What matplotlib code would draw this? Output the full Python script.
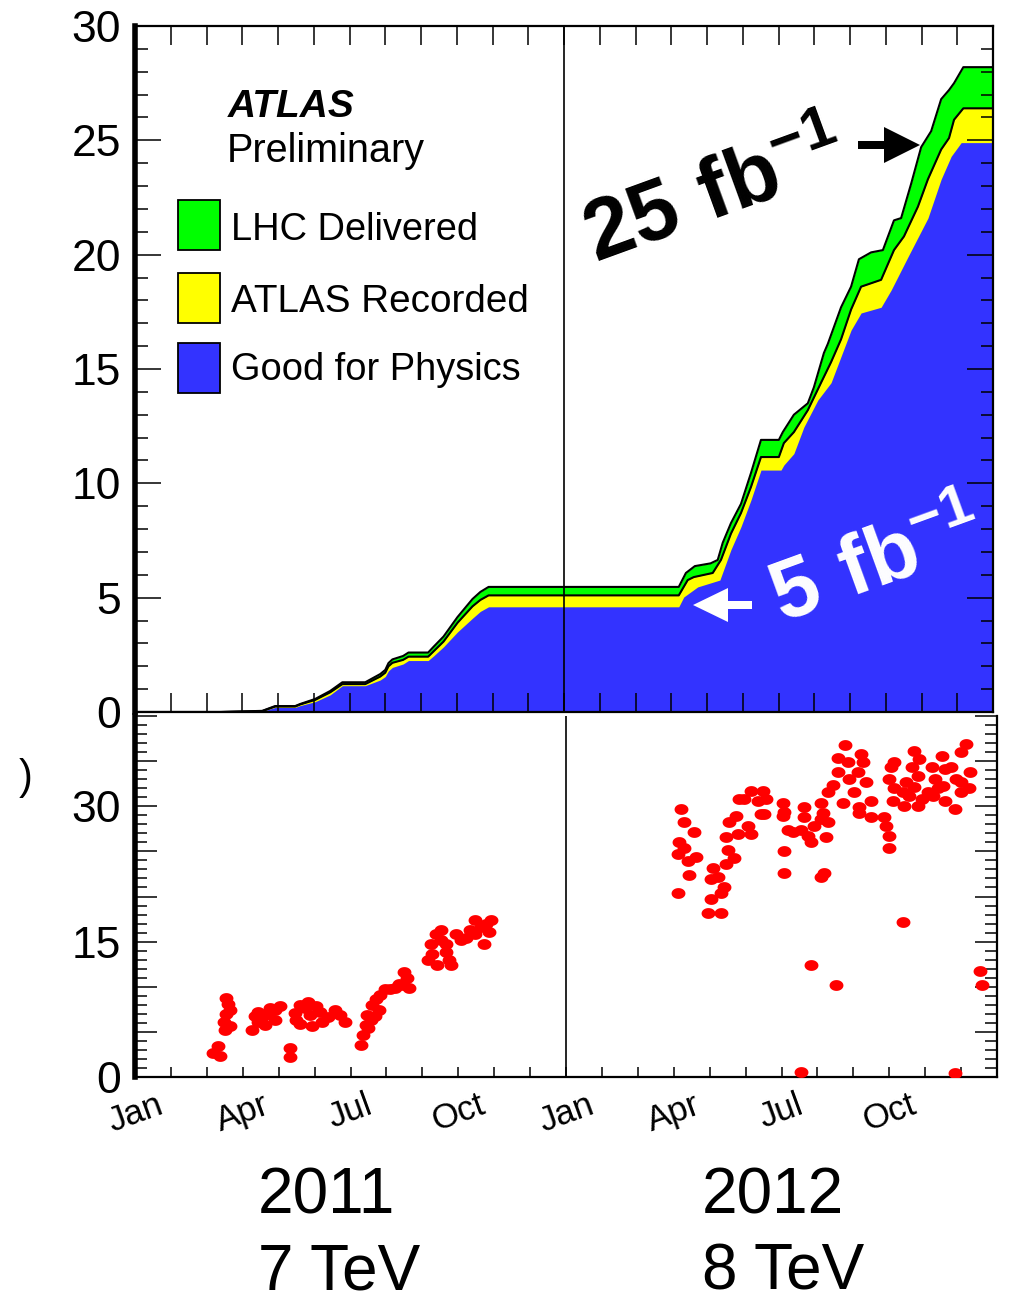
import numpy as np
import matplotlib
matplotlib.use("Agg")
import matplotlib.pyplot as plt
from matplotlib.patches import Rectangle, FancyArrow
from matplotlib.transforms import Affine2D

plt.rcParams['font.family'] = ['Liberation Sans', 'DejaVu Sans']
plt.rcParams['mathtext.fontset'] = 'custom'
plt.rcParams['mathtext.rm'] = 'Liberation Sans'
plt.rcParams['mathtext.bf'] = 'Liberation Sans:bold'

# ---- data (x in months since 1 Jan 2011) ----
del_x = [0, 2.4, 3.56, 3.92, 4.48, 4.62, 5.04, 5.46, 5.8, 6.44, 6.86, 7.0, 7.09, 7.2, 7.5,
         7.65, 8.2, 8.35, 8.63, 9.02, 9.44, 9.66, 9.89, 15.21, 15.41, 15.66, 16.1, 16.3, 16.44,
         16.67, 16.95, 17.23, 17.51, 18.01, 18.12, 18.43, 18.82, 18.99, 19.27, 19.38, 19.75,
         20.03, 20.25, 20.59, 20.92, 21.23, 21.43, 21.71, 21.99, 22.27, 22.55, 22.77, 22.91,
         23.17, 24.1]
del_y = [0, 0, 0.05, 0.26, 0.26, 0.35, 0.57, 0.92, 1.3, 1.3, 1.66, 1.84, 2.14, 2.3, 2.45,
         2.6, 2.6, 2.85, 3.3, 4.15, 4.94, 5.25, 5.47, 5.47, 6.08, 6.38, 6.5, 6.65, 7.4,
         8.26, 9.1, 10.45, 11.9, 11.9, 12.24, 13.0, 13.5, 14.2, 15.7, 16.1, 17.7,
         18.6, 19.8, 20.1, 20.2, 21.5, 21.6, 23.1, 24.7, 25.4, 26.8, 27.2, 27.5,
         28.2, 28.2]

rec_x = [0, 2.4, 3.56, 3.92, 4.48, 4.62, 5.04, 5.46, 5.8, 6.44, 6.86, 7.0, 7.09, 7.2, 7.5,
         7.65, 8.2, 8.35, 8.63, 9.02, 9.44, 9.66, 9.89, 15.21, 15.46, 15.63, 16.16, 16.39,
         16.67, 16.95, 17.23, 17.51, 18.01, 18.15, 18.43, 18.82, 19.19, 19.47, 19.75, 20.03,
         20.31, 20.87, 21.23, 21.51, 21.9, 22.18, 22.55, 22.77, 22.91, 23.17, 24.1]
rec_y = [0, 0, 0.04, 0.24, 0.24, 0.33, 0.53, 0.86, 1.22, 1.22, 1.55, 1.72, 2.0, 2.15, 2.28,
         2.42, 2.42, 2.65, 3.08, 3.9, 4.62, 4.9, 5.1, 5.1, 5.77, 5.9, 6.08, 6.65,
         7.8, 8.7, 9.84, 11.15, 11.15, 11.76, 12.24, 13.2, 14.4, 15.3, 16.3, 17.6,
         18.6, 18.9, 20.2, 20.8, 22.1, 23.3, 24.6, 25.1, 25.9, 26.4, 26.4]

good_x = [0, 2.4, 3.56, 3.92, 4.48, 4.62, 5.04, 5.46, 5.8, 6.44, 6.86, 7.0, 7.09, 7.2, 7.5,
          7.65, 8.2, 8.35, 8.63, 9.02, 9.44, 9.66, 9.89, 15.21, 15.35, 15.74, 16.36, 16.67,
          16.95, 17.23, 17.51, 18.07, 18.15, 18.43, 18.71, 19.1, 19.47, 20.03, 20.31, 20.87,
          21.15, 21.62, 22.18, 22.55, 22.83, 23.11, 24.1]
good_y = [0, 0, 0.03, 0.2, 0.2, 0.28, 0.45, 0.75, 1.15, 1.15, 1.4, 1.55, 1.8, 1.95, 2.1,
          2.25, 2.25, 2.45, 2.85, 3.5, 4.1, 4.4, 4.6, 4.6, 5.03, 5.47, 5.77, 7.1,
          8.1, 9.27, 10.58, 10.58, 10.8, 11.3, 12.46, 13.64, 14.4, 16.7, 17.45, 17.7,
          18.45, 19.9, 21.6, 23.3, 24.3, 24.9, 24.9]

mu11_x = [2.18, 2.32, 2.37, 2.54, 2.59, 2.54, 2.48, 2.51, 2.65, 2.65, 3.26, 3.43, 3.54, 3.71,
          3.91, 4.04, 3.91, 3.63, 3.43, 3.77, 3.35, 4.32, 4.32, 4.49, 4.60, 4.74, 4.88, 4.60,
          4.94, 4.46, 4.83, 5.16, 5.38, 5.58, 5.72, 5.86, 5.22, 5.05, 6.30, 6.36, 6.42, 6.47,
          6.56, 6.61, 6.72, 6.83, 6.97, 7.11, 7.25, 7.34, 7.45, 7.56, 7.48, 7.62, 6.69, 6.50,
          6.78, 8.17, 8.23, 8.37, 8.51, 8.65, 8.73, 8.79, 8.65, 8.93, 9.07, 9.21, 9.34, 9.48,
          9.62, 9.76, 9.85, 9.71, 9.90, 9.48, 8.51, 8.28, 8.42]
mu11_y = [2.7, 3.4, 2.3, 8.8, 8.1, 7.0, 6.1, 5.2, 5.7, 7.4, 5.2, 6.1, 6.6, 7.0,
          7.4, 7.9, 6.3, 5.8, 7.2, 7.7, 6.8, 3.2, 2.2, 6.3, 8.0, 7.7, 6.9, 5.9,
          5.7, 7.1, 8.3, 7.2, 6.6, 7.4, 6.9, 6.1, 6.1, 7.9, 3.6, 4.7, 5.8, 6.9,
          6.3, 8.0, 8.6, 9.1, 9.7, 9.7, 9.9, 10.3, 10.2, 11.0, 11.6, 9.9, 6.8, 5.4,
          7.4, 13.0, 14.7, 15.8, 15.2, 14.7, 13.0, 12.4, 13.8, 15.8, 15.2, 15.4, 16.3, 15.8,
          16.6, 16.9, 16.1, 14.7, 17.4, 17.4, 16.3, 13.6, 12.4]

mu12_x = [15.20, 15.29, 15.15, 15.56, 15.12, 15.40, 15.62, 15.43, 15.12, 15.29, 15.96, 16.32,
          16.04, 16.32, 16.40, 16.04, 16.23, 16.09, 16.46, 16.51, 16.68, 16.46, 16.54, 16.78,
          16.74, 17.07, 17.15, 16.82, 17.15, 17.49, 17.35, 17.57, 17.52, 16.96, 18.05, 18.08,
          18.05, 18.19, 18.33, 18.63, 18.63, 18.54, 18.74, 18.83, 18.91, 19.11, 19.30, 19.16,
          19.25, 18.08, 18.08, 19.11, 19.19, 19.11, 19.30, 19.44, 19.58, 19.58, 19.78, 19.86,
          19.89, 19.72, 20.03, 20.14, 20.22, 20.28, 20.36, 20.17, 20.50, 20.17, 20.50, 20.86,
          20.92, 20.98, 20.98, 21.39, 21.06, 21.14, 21.00, 21.14, 21.11, 21.42, 21.54, 21.70,
          21.84, 21.62, 21.81, 21.70, 21.90, 21.81, 22.18, 22.26, 22.09, 22.46, 22.54, 22.51,
          22.54, 22.73, 22.87, 22.82, 23.01, 23.15, 23.24, 23.21, 23.01, 23.01, 22.37, 22.23,
          21.48, 21.39, 18.83, 19.53, 18.54, 22.82, 23.54, 23.57, 17.43]
mu12_y = [29.7, 28.2, 26.0, 27.1, 24.7, 23.9, 24.4, 22.4, 20.4, 25.4, 18.2, 18.2,
          19.7, 20.4, 21.1, 21.9, 22.2, 23.2, 23.6, 25.2, 24.3, 26.6, 28.2, 26.9,
          28.9, 27.8, 26.9, 30.8, 31.7, 31.7, 30.6, 30.8, 29.1, 30.8, 30.4, 29.4,
          28.9, 27.4, 27.1, 29.9, 28.8, 27.4, 26.7, 26.0, 27.8, 28.6, 28.2, 29.3,
          26.6, 25.0, 22.6, 22.2, 22.6, 30.4, 31.6, 32.4, 33.8, 35.4, 36.8, 34.9,
          33.0, 30.4, 31.6, 33.8, 35.8, 34.9, 32.7, 29.9, 30.6, 29.3, 28.8, 28.8,
          27.8, 26.7, 25.4, 17.2, 34.4, 34.9, 33.0, 32.0, 30.6, 30.0, 31.1, 36.1,
          35.2, 34.4, 33.3, 32.1, 30.8, 30.0, 34.4, 33.0, 31.6, 35.6, 34.1, 32.2,
          30.6, 34.4, 33.0, 29.7, 36.0, 36.9, 33.8, 32.0, 31.6, 32.7, 32.0, 31.1,
          32.7, 31.6, 12.4, 10.2, 0.5, 0.4, 11.7, 10.2, 29.1]

month_labels = ['Jan', 'Apr', 'Jul', 'Oct', 'Jan', 'Apr', 'Jul', 'Oct']
legend_labels = ['LHC Delivered', 'ATLAS Recorded', 'Good for Physics']
c_del, c_rec, c_good, c_mu = '#00ff00', '#ffff00', '#3333ff', '#ff0000'

# ---- figure ----
W, H = 1010, 1303
fig = plt.figure(figsize=(W / 100, H / 100), dpi=100)
pix = Affine2D().scale(1 / W, -1 / H).translate(0, 1) + fig.transFigure

ax1 = fig.add_axes([135 / W, 1 - 712 / H, (993 - 135) / W, (712 - 26) / H])
ax2 = fig.add_axes([135 / W, 1 - 1077 / H, (997 - 135) / W, (1077 - 716) / H])

# top: cumulative luminosity
ax1.fill_between(del_x, 0, del_y, color=c_del, lw=0, zorder=1)
ax1.fill_between(rec_x, 0, rec_y, color=c_rec, lw=0, zorder=1.1)
ax1.fill_between(good_x, 0, good_y, color=c_good, lw=0, zorder=1.2)
ax1.plot(del_x, del_y, color='black', lw=1.5, zorder=1.5)
ax1.plot(rec_x, rec_y, color='black', lw=1.5, zorder=1.5)
ax1.axvline(12, color='black', lw=1.2, zorder=1.6)
ax1.set_xlim(0, 24)
ax1.set_ylim(0, 30)
ax1.set_xticks(np.arange(1, 24))
ax1.tick_params(axis='x', which='both', direction='in', top=True, bottom=True,
                length=14, width=1.1, labelbottom=False)
ax1.set_yticks(np.arange(0, 31, 5))
ax1.set_yticks(np.arange(0, 31, 1), minor=True)
ax1.tick_params(axis='y', which='major', direction='in', left=True, right=True,
                length=19, width=1.1, labelsize=32, pad=10)
ax1.tick_params(axis='y', which='minor', direction='in', left=True, right=True,
                length=9, width=1.1)
for s in ['top', 'right', 'bottom']:
    ax1.spines[s].set_linewidth(1.6)
ax1.spines['left'].set_linewidth(4)

# bottom: peak interactions
t = np.linspace(0, 2 * np.pi, 40)
ell = np.column_stack([np.cos(t), 0.78 * np.sin(t)])
ax2.scatter(mu11_x, mu11_y, s=100, marker=ell, color=c_mu, lw=0, zorder=3)
ax2.scatter(mu12_x, mu12_y, s=100, marker=ell, color=c_mu, lw=0, zorder=3)
ax2.axvline(12, color='black', lw=1.2, zorder=2)
ax2.set_xlim(0, 24)
ax2.set_ylim(0, 40)
ax2.set_xticks(np.arange(0, 24, 3))
ax2.set_xticklabels(month_labels, rotation=20, fontsize=25)
ax2.set_xticks(np.arange(0, 24, 1), minor=True)
ax2.tick_params(axis='x', which='both', direction='in', length=7.5, width=1.1, pad=8)
yt = np.arange(0, 41, 5)
ax2.set_yticks(yt)
ax2.set_yticklabels([str(v) if v % 15 == 0 and v <= 30 else '' for v in yt])
ax2.set_yticks(np.arange(0, 41, 1), minor=True)
ax2.tick_params(axis='y', which='major', direction='in', left=True, right=True,
                length=16, width=1.1, labelsize=32, pad=10)
ax2.tick_params(axis='y', which='minor', direction='in', left=True, right=True,
                length=8.6, width=1.1)
ax2.spines['top'].set_visible(False)
for s in ['right', 'bottom']:
    ax2.spines[s].set_linewidth(1.6)
ax2.spines['left'].set_linewidth(4)

# ---- annotations ----
fig.text(228, 117, 'ATLAS', transform=pix, fontsize=28, fontweight='bold',
         fontstyle='italic', ha='left', va='baseline')
fig.text(227, 162, 'Preliminary', transform=pix, fontsize=28.5, ha='left', va='baseline')

box_tops = [200, 273, 343]
box_cols = [c_del, c_rec, c_good]
text_base = [240, 312, 380]
text_size = [27.4, 27.8, 27.4]
for top, col, lab, yb, fs in zip(box_tops, box_cols, legend_labels, text_base, text_size):
    fig.add_artist(Rectangle((178, top + 50), 42, -50, transform=pix,
                             facecolor=col, edgecolor='black', lw=1.3))
    fig.text(231, yb, lab, transform=pix, fontsize=fs, ha='left', va='baseline')

fig.text(716, 196, r'$\mathbf{25\ fb^{-1}}$', transform=pix, fontsize=61,
         rotation=20, ha='center', va='center', color='black')
fig.text(878, 565, r'$\mathbf{5\ fb^{-1}}$', transform=pix, fontsize=60,
         rotation=20, ha='center', va='center', color='white')

fig.add_artist(FancyArrow(858, 145, 62, 0, width=8, head_width=36, head_length=36,
                          length_includes_head=True, transform=pix,
                          color='black', lw=0))
fig.add_artist(FancyArrow(752, 605, -59, 0, width=8, head_width=34, head_length=35,
                          length_includes_head=True, transform=pix,
                          color='white', lw=0))

fig.text(258, 1214, '2011', transform=pix, fontsize=46, ha='left', va='baseline')
fig.text(258, 1289, '7 TeV', transform=pix, fontsize=46, ha='left', va='baseline')
fig.text(702, 1214, '2012', transform=pix, fontsize=46, ha='left', va='baseline')
fig.text(702, 1289, '8 TeV', transform=pix, fontsize=46, ha='left', va='baseline')

fig.text(26, 778, ')', transform=pix, fontsize=30, ha='center', va='center')

fig.savefig('out.png', dpi=100)
